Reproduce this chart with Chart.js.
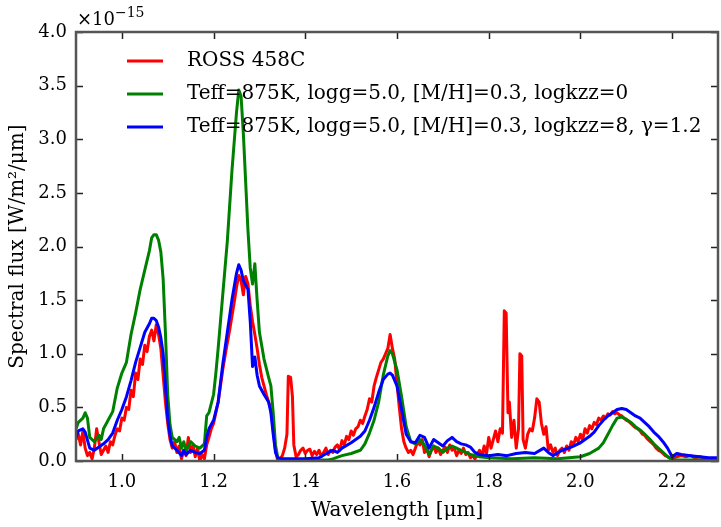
<!DOCTYPE html>
<html>
<head>
<meta charset="utf-8">
<script src="https://cdn.jsdelivr.net/npm/chart.js@4/dist/chart.umd.min.js"></script>
<style>
  html, body { margin: 0; padding: 0; background: #fff; }
  canvas { display: block; }
</style>
</head>
<body>
<canvas id="spectrum" width="721" height="527"></canvas>
<script>
// wavelength in micron, flux in units of 1e-15 W/m2/um
const rossWave = [
  0.900, 0.905, 0.910, 0.915, 0.920, 0.925, 0.930, 0.935, 0.940, 0.945,
  0.950, 0.955, 0.960, 0.965, 0.970, 0.975, 0.980, 0.985, 0.990, 0.995,
  1.000, 1.005, 1.010, 1.015, 1.020, 1.025, 1.030, 1.035, 1.040, 1.045,
  1.050, 1.055, 1.060, 1.065, 1.070, 1.075, 1.080, 1.085, 1.090, 1.095,
  1.100, 1.105, 1.110, 1.115, 1.120, 1.125, 1.130, 1.135, 1.140, 1.145,
  1.150, 1.155, 1.160, 1.165, 1.170, 1.175, 1.180, 1.185, 1.190, 1.195,
  1.200, 1.205, 1.210, 1.215, 1.220, 1.225, 1.230, 1.235, 1.240, 1.245,
  1.250, 1.255, 1.260, 1.265, 1.270, 1.275, 1.280, 1.285, 1.290, 1.295,
  1.300, 1.305, 1.310, 1.315, 1.320, 1.325, 1.330, 1.335, 1.340, 1.345,
  1.350, 1.355, 1.360, 1.363, 1.368, 1.372, 1.375, 1.380, 1.385, 1.390,
  1.395, 1.400, 1.405, 1.410, 1.415, 1.420, 1.425, 1.430, 1.435, 1.440,
  1.445, 1.450, 1.455, 1.460, 1.465, 1.470, 1.475, 1.480, 1.485, 1.490,
  1.495, 1.500, 1.505, 1.510, 1.515, 1.520, 1.525, 1.530, 1.535, 1.540,
  1.545, 1.550, 1.555, 1.560, 1.565, 1.570, 1.575, 1.580, 1.585, 1.590,
  1.595, 1.600, 1.605, 1.610, 1.615, 1.620, 1.625, 1.630, 1.635, 1.640,
  1.645, 1.650, 1.655, 1.660, 1.665, 1.670, 1.675, 1.680, 1.685, 1.690,
  1.695, 1.700, 1.705, 1.710, 1.715, 1.720, 1.725, 1.730, 1.735, 1.740,
  1.745, 1.750, 1.755, 1.760, 1.765, 1.770, 1.775, 1.780, 1.785, 1.790,
  1.795, 1.800, 1.805, 1.810, 1.815, 1.820, 1.825, 1.830, 1.834, 1.838,
  1.842, 1.845, 1.850, 1.855, 1.860, 1.865, 1.868, 1.872, 1.875, 1.880,
  1.885, 1.890, 1.895, 1.900, 1.905, 1.910, 1.915, 1.920, 1.925, 1.930,
  1.935, 1.940, 1.945, 1.950, 1.955, 1.960, 1.965, 1.970, 1.975, 1.980,
  1.985, 1.990, 1.995, 2.000, 2.005, 2.010, 2.015, 2.020, 2.025, 2.030,
  2.035, 2.040, 2.045, 2.050, 2.055, 2.060, 2.065, 2.070, 2.075, 2.080,
  2.085, 2.090, 2.095, 2.100, 2.105, 2.110, 2.115, 2.120, 2.125, 2.130,
  2.135, 2.140, 2.145, 2.150, 2.155, 2.160, 2.165, 2.170, 2.175, 2.180,
  2.185, 2.190, 2.195, 2.200, 2.210, 2.220, 2.230, 2.240, 2.250, 2.260,
  2.270, 2.280, 2.290, 2.300
]
const rossFlux = [
  0.20, 0.25, 0.15, 0.28, 0.12, 0.05, 0.08, 0.02, 0.12, 0.30,
  0.18, 0.06, 0.10, 0.14, 0.08, 0.18, 0.15, 0.24, 0.30, 0.28,
  0.40, 0.38, 0.50, 0.48, 0.66, 0.60, 0.82, 0.76, 0.95, 0.90,
  1.08, 1.02, 1.16, 1.22, 1.12, 1.27, 1.18, 1.05, 0.80, 0.55,
  0.35, 0.20, 0.12, 0.18, 0.08, 0.14, 0.02, 0.10, 0.05, 0.22,
  0.08, 0.15, 0.04, 0.12, 0.00, 0.06, 0.02, 0.15, 0.22, 0.30,
  0.35, 0.45, 0.55, 0.70, 0.85, 0.98, 1.10, 1.22, 1.35, 1.48,
  1.62, 1.73, 1.68, 1.55, 1.72, 1.65, 1.45, 1.30, 1.18, 1.05,
  0.90, 0.78, 0.70, 0.62, 0.55, 0.48, 0.30, 0.10, 0.00, 0.02,
  0.05, 0.12, 0.25, 0.79, 0.78, 0.60, 0.15, 0.04, 0.06, 0.10,
  0.12, 0.07, 0.10, 0.11, 0.05, 0.09, 0.06, 0.10, 0.04, 0.08,
  0.12, 0.06, 0.10, 0.08, 0.13, 0.15, 0.10, 0.19, 0.15, 0.23,
  0.20, 0.28, 0.24, 0.30, 0.32, 0.38, 0.35, 0.42, 0.48, 0.58,
  0.55, 0.70, 0.78, 0.85, 0.92, 0.95, 1.00, 1.05, 1.18, 1.05,
  0.95, 0.72, 0.50, 0.30, 0.18, 0.12, 0.08, 0.10, 0.06, 0.12,
  0.18, 0.15, 0.20, 0.08, 0.12, 0.04, 0.10, 0.14, 0.08, 0.12,
  0.06, 0.10, 0.13, 0.08, 0.15, 0.10, 0.12, 0.05, 0.10, 0.07,
  0.12, 0.06, 0.08, 0.03, 0.05, 0.02, 0.06, 0.10, 0.05, 0.14,
  0.06, 0.22, 0.12, 0.20, 0.28, 0.18, 0.30, 0.26, 1.40, 1.38,
  0.45, 0.55, 0.22, 0.38, 0.12, 0.30, 1.00, 0.98, 0.20, 0.12,
  0.25, 0.30, 0.28, 0.40, 0.58, 0.55, 0.35, 0.25, 0.32, 0.10,
  0.15, 0.08, 0.12, 0.05, 0.10, 0.12, 0.08, 0.14, 0.10, 0.18,
  0.15, 0.22, 0.18, 0.25, 0.20, 0.30, 0.26, 0.33, 0.30, 0.36,
  0.34, 0.40, 0.38, 0.42, 0.40, 0.44, 0.43, 0.46, 0.44, 0.45,
  0.43, 0.42, 0.40, 0.38, 0.37, 0.35, 0.33, 0.31, 0.30, 0.28,
  0.25, 0.24, 0.21, 0.19, 0.17, 0.15, 0.12, 0.10, 0.09, 0.07,
  0.05, 0.04, 0.03, 0.02, 0.04, 0.05, 0.04, 0.05, 0.03, 0.04,
  0.03, 0.02, 0.02, 0.02
]

// model without vertical mixing
const cloudlessWave = [
  0.900, 0.905, 0.915, 0.920, 0.925, 0.930, 0.940, 0.950, 0.955, 0.960,
  0.970, 0.980, 0.990, 1.000, 1.010, 1.020, 1.030, 1.040, 1.050, 1.060,
  1.065, 1.070, 1.075, 1.080, 1.085, 1.090, 1.095, 1.100, 1.105, 1.110,
  1.120, 1.125, 1.130, 1.135, 1.140, 1.150, 1.160, 1.170, 1.180, 1.185,
  1.190, 1.200, 1.205, 1.210, 1.220, 1.230, 1.240, 1.250, 1.255, 1.260,
  1.265, 1.270, 1.275, 1.280, 1.285, 1.290, 1.295, 1.300, 1.310, 1.320,
  1.325, 1.330, 1.335, 1.340, 1.350, 1.400, 1.450, 1.460, 1.480, 1.500,
  1.520, 1.530, 1.540, 1.550, 1.560, 1.570, 1.580, 1.585, 1.590, 1.600,
  1.610, 1.620, 1.630, 1.640, 1.650, 1.660, 1.670, 1.680, 1.690, 1.700,
  1.710, 1.720, 1.730, 1.740, 1.750, 1.760, 1.780, 1.800, 1.850, 1.900,
  1.950, 2.000, 2.020, 2.040, 2.050, 2.060, 2.070, 2.080, 2.090, 2.100,
  2.110, 2.120, 2.130, 2.140, 2.150, 2.160, 2.170, 2.180, 2.190, 2.200,
  2.250, 2.300
]
const cloudlessFlux = [
  0.30, 0.36, 0.40, 0.45, 0.40, 0.22, 0.18, 0.24, 0.20, 0.30,
  0.38, 0.46, 0.68, 0.82, 0.92, 1.18, 1.38, 1.60, 1.78, 1.96,
  2.08, 2.11, 2.11, 2.06, 1.95, 1.70, 1.20, 0.62, 0.34, 0.22,
  0.18, 0.22, 0.12, 0.18, 0.10, 0.18, 0.14, 0.12, 0.16, 0.42,
  0.45, 0.62, 0.82, 1.05, 1.55, 2.05, 2.70, 3.25, 3.46, 3.40,
  3.05, 2.60, 2.15, 1.80, 1.65, 1.84, 1.50, 1.20, 0.95, 0.78,
  0.70, 0.45, 0.15, 0.03, 0.01, 0.01, 0.01, 0.02, 0.05, 0.07,
  0.10, 0.16, 0.26, 0.38, 0.55, 0.80, 0.98, 1.03, 1.00, 0.85,
  0.60, 0.32, 0.18, 0.16, 0.20, 0.15, 0.06, 0.14, 0.12, 0.08,
  0.12, 0.14, 0.12, 0.10, 0.08, 0.06, 0.04, 0.03, 0.02, 0.03,
  0.02, 0.04, 0.07, 0.12, 0.17, 0.25, 0.33, 0.40, 0.41, 0.39,
  0.36, 0.32, 0.29, 0.25, 0.21, 0.16, 0.12, 0.08, 0.04, 0.01,
  0.01, 0.01
]

// model with logkzz=8 and cloud parameter 1.2
const cloudyWave = [
  0.900, 0.905, 0.915, 0.920, 0.930, 0.940, 0.950, 0.960, 0.970, 0.980,
  0.990, 1.000, 1.010, 1.020, 1.030, 1.040, 1.050, 1.060, 1.065, 1.070,
  1.075, 1.080, 1.085, 1.090, 1.095, 1.100, 1.105, 1.110, 1.120, 1.130,
  1.135, 1.140, 1.150, 1.160, 1.170, 1.180, 1.185, 1.190, 1.200, 1.210,
  1.220, 1.230, 1.240, 1.250, 1.255, 1.260, 1.265, 1.270, 1.275, 1.280,
  1.285, 1.290, 1.295, 1.300, 1.310, 1.320, 1.325, 1.330, 1.335, 1.340,
  1.350, 1.400, 1.430, 1.450, 1.460, 1.470, 1.480, 1.500, 1.520, 1.530,
  1.540, 1.550, 1.560, 1.570, 1.580, 1.585, 1.590, 1.600, 1.610, 1.620,
  1.630, 1.640, 1.650, 1.660, 1.670, 1.680, 1.690, 1.700, 1.710, 1.720,
  1.730, 1.740, 1.750, 1.760, 1.770, 1.780, 1.800, 1.820, 1.840, 1.860,
  1.880, 1.900, 1.920, 1.930, 1.940, 1.960, 1.980, 2.000, 2.020, 2.030,
  2.040, 2.050, 2.060, 2.070, 2.080, 2.090, 2.100, 2.110, 2.120, 2.130,
  2.140, 2.150, 2.160, 2.170, 2.180, 2.190, 2.200, 2.210, 2.220, 2.240,
  2.260, 2.280, 2.300
]
const cloudyFlux = [
  0.22, 0.28, 0.30, 0.27, 0.12, 0.10, 0.13, 0.16, 0.20, 0.26,
  0.38, 0.48, 0.60, 0.75, 0.92, 1.06, 1.20, 1.28, 1.33, 1.33,
  1.31, 1.25, 1.15, 1.00, 0.70, 0.40, 0.24, 0.14, 0.10, 0.05,
  0.10, 0.06, 0.10, 0.08, 0.07, 0.10, 0.22, 0.30, 0.38, 0.55,
  0.90, 1.20, 1.50, 1.75, 1.83, 1.78, 1.68, 1.64, 1.60, 1.30,
  0.88, 0.97, 0.80, 0.70, 0.62, 0.55, 0.45, 0.25, 0.08, 0.03,
  0.02, 0.02, 0.03, 0.08, 0.10, 0.08, 0.12, 0.17, 0.23, 0.28,
  0.38, 0.50, 0.64, 0.76, 0.81, 0.82, 0.80, 0.70, 0.48, 0.25,
  0.18, 0.17, 0.24, 0.22, 0.12, 0.20, 0.17, 0.14, 0.19, 0.22,
  0.18, 0.16, 0.15, 0.13, 0.08, 0.06, 0.05, 0.06, 0.05, 0.07,
  0.08, 0.07, 0.12, 0.08, 0.05, 0.10, 0.13, 0.17, 0.23, 0.27,
  0.33, 0.38, 0.42, 0.45, 0.48, 0.49, 0.48, 0.45, 0.42, 0.40,
  0.36, 0.32, 0.27, 0.23, 0.18, 0.12, 0.04, 0.07, 0.06, 0.05,
  0.04, 0.03, 0.03
]

const seriesLabels = [
  'ROSS 458C',
  'Teff=875K, logg=5.0, [M/H]=0.3, logkzz=0',
  'Teff=875K, logg=5.0, [M/H]=0.3, logkzz=8, γ=1.2'
]
const seriesColors = ['#ff0000', '#008000', '#0000ff']

const xTicks = [1.0, 1.2, 1.4, 1.6, 1.8, 2.0, 2.2]
const yTicks = [0.0, 0.5, 1.0, 1.5, 2.0, 2.5, 3.0, 3.5, 4.0]

const SERIF = "'DejaVu Serif', serif"

function toPoints(xs, ys) {
  return xs.map((x, i) => ({ x: x, y: ys[i] }))
}

// frame, inward ticks, legend and the exponent label
const axesDecor = {
  id: 'axesDecor',
  afterDraw(chart) {
    const ctx = chart.ctx
    const area = chart.chartArea
    const xs = chart.scales.x
    const ys = chart.scales.y
    const tick = 7

    ctx.save()
    ctx.strokeStyle = '#222'
    ctx.lineWidth = 1.5
    ctx.beginPath()
    xTicks.forEach(v => {
      const px = Math.round(xs.getPixelForValue(v)) + 0.5
      ctx.moveTo(px, area.bottom)
      ctx.lineTo(px, area.bottom - tick)
      ctx.moveTo(px, area.top)
      ctx.lineTo(px, area.top + tick)
    })
    yTicks.forEach(v => {
      const py = Math.round(ys.getPixelForValue(v)) + 0.5
      ctx.moveTo(area.left, py)
      ctx.lineTo(area.left + tick, py)
      ctx.moveTo(area.right, py)
      ctx.lineTo(area.right - tick, py)
    })
    ctx.stroke()

    ctx.strokeStyle = '#555'
    ctx.lineWidth = 2.5
    ctx.strokeRect(area.left, area.top, area.right - area.left, area.bottom - area.top)

    // legend
    ctx.textBaseline = 'middle'
    ctx.textAlign = 'left'
    ctx.font = '20px ' + SERIF
    seriesLabels.forEach((label, i) => {
      const y = area.top + 29 + i * 33
      ctx.strokeStyle = seriesColors[i]
      ctx.lineWidth = 3
      ctx.beginPath()
      ctx.moveTo(area.left + 51, y)
      ctx.lineTo(area.left + 87, y)
      ctx.stroke()
      ctx.fillStyle = '#000'
      ctx.fillText(label, area.left + 111, y)
    })

    // exponent of the flux axis
    ctx.textBaseline = 'alphabetic'
    ctx.fillStyle = '#000'
    ctx.font = '18px ' + SERIF
    ctx.fillText('×10', area.left + 1, area.top - 7)
    const w = ctx.measureText('×10').width
    ctx.font = '14px ' + SERIF
    ctx.fillText('−15', area.left + 1 + w, area.top - 15)
    ctx.restore()
  }
}

new Chart(document.getElementById('spectrum'), {
  type: 'line',
  data: {
    datasets: [
      {
        label: seriesLabels[0],
        data: toPoints(rossWave, rossFlux),
        borderColor: seriesColors[0],
        order: 2
      },
      {
        label: seriesLabels[1],
        data: toPoints(cloudlessWave, cloudlessFlux),
        borderColor: seriesColors[1],
        order: 1
      },
      {
        label: seriesLabels[2],
        data: toPoints(cloudyWave, cloudyFlux),
        borderColor: seriesColors[2],
        order: 0
      }
    ]
  },
  options: {
    responsive: false,
    animation: false,
    devicePixelRatio: 1,
    layout: { padding: { left: 0, top: 32, right: 3, bottom: 0 } },
    elements: {
      point: { radius: 0 },
      line: { borderWidth: 3, tension: 0, borderJoinStyle: 'round' }
    },
    plugins: {
      legend: { display: false },
      tooltip: { enabled: false }
    },
    scales: {
      x: {
        type: 'linear',
        min: 0.9,
        max: 2.3,
        grid: { display: false, drawTicks: false },
        border: { display: false },
        afterBuildTicks: scale => { scale.ticks = xTicks.map(v => ({ value: v })) },
        afterFit: scale => { scale.height = 66 },
        ticks: {
          padding: 11,
          color: '#000',
          font: { family: SERIF, size: 18 },
          maxRotation: 0,
          callback: v => v.toFixed(1)
        },
        title: {
          display: true,
          text: 'Wavelength [μm]',
          color: '#000',
          font: { family: SERIF, size: 20 },
          padding: { top: 0, bottom: 4 }
        }
      },
      y: {
        min: 0,
        max: 4,
        grid: { display: false, drawTicks: false },
        border: { display: false },
        afterBuildTicks: scale => { scale.ticks = yTicks.map(v => ({ value: v })) },
        afterFit: scale => { scale.width = 76 },
        ticks: {
          padding: 9,
          color: '#000',
          font: { family: SERIF, size: 18 },
          callback: v => v.toFixed(1)
        },
        title: {
          display: true,
          text: 'Spectral flux [W/m²/μm]',
          color: '#000',
          font: { family: SERIF, size: 20 },
          padding: { top: 6, bottom: 0 }
        }
      }
    }
  },
  plugins: [axesDecor]
})
</script>
</body>
</html>
